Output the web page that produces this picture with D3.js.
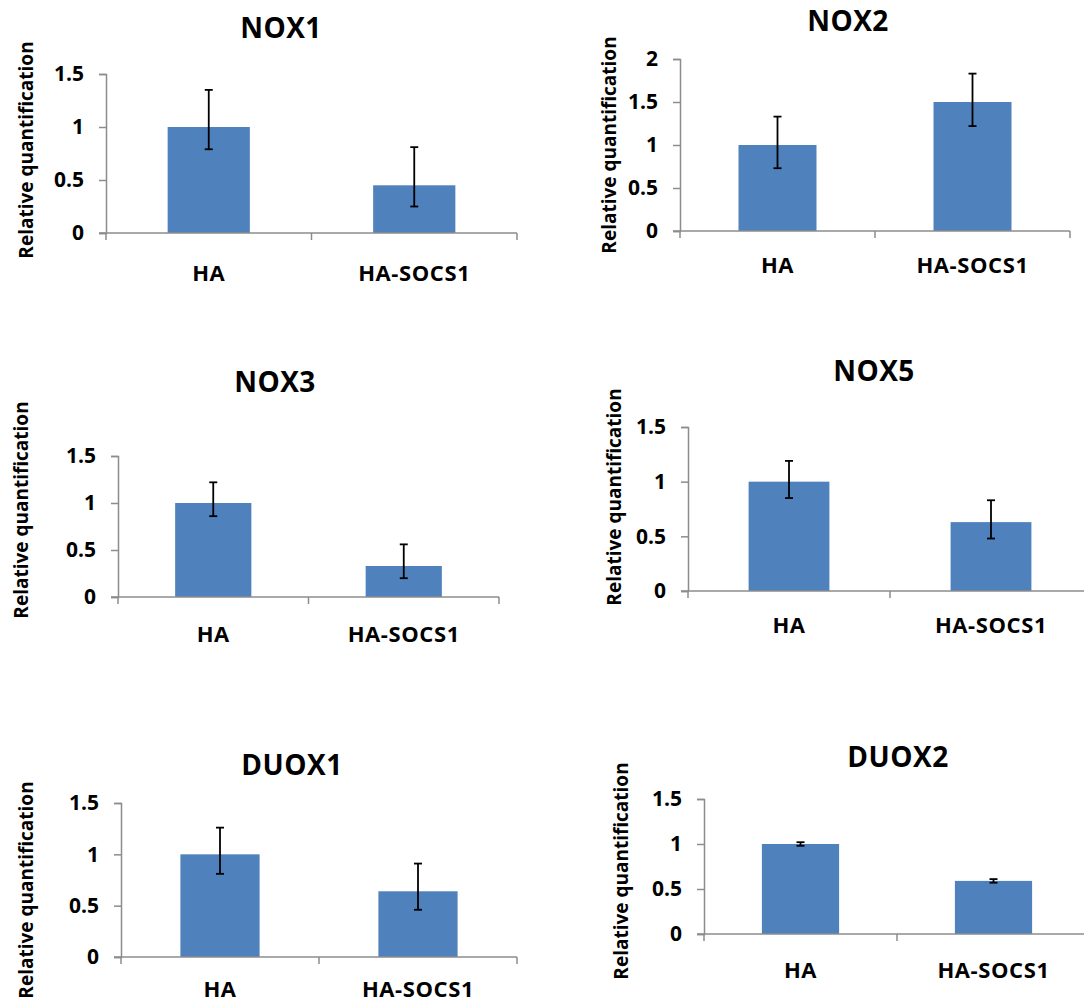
<!DOCTYPE html>
<html>
<head>
<meta charset="utf-8">
<script src="https://cdn.jsdelivr.net/npm/d3@7"></script>
<style>
  body { margin: 0; background: #fff; }
  svg { display: block; font-family: "Open Sans", "Noto Sans", sans-serif; font-weight: bold; }
</style>
</head>
<body>
<svg id="chart" width="1084" height="1003"></svg>
<script>
// data
var genes = ['NOX1', 'NOX2', 'NOX3', 'NOX5', 'DUOX1', 'DUOX2']
var groups = ['HA', 'HA-SOCS1']
var values = [[1.0, 0.45], [1.0, 1.50], [1.0, 0.33], [1.0, 0.63], [1.0, 0.64], [1.0, 0.59]]
var errLow = [[0.79, 0.25], [0.73, 1.22], [0.86, 0.20], [0.85, 0.48], [0.81, 0.46], [0.98, 0.57]]
var errHigh = [[1.35, 0.81], [1.33, 1.83], [1.22, 0.56], [1.19, 0.83], [1.26, 0.91], [1.02, 0.61]]
var yMax = [1.5, 2, 1.5, 1.5, 1.5, 1.5]
var yTicks = [[0, 0.5, 1, 1.5], [0, 0.5, 1, 1.5, 2], [0, 0.5, 1, 1.5], [0, 0.5, 1, 1.5], [0, 0.5, 1, 1.5], [0, 0.5, 1, 1.5]]
var yLabel = 'Relative quantification'

// panel placement on the page
var panels = [
  {x0: 106, x1: 517, zero: 233, top: 74, tx: 281, ty: 38, lx: 26, ly: 150, xl: 281},
  {x0: 680, x1: 1070, zero: 231, top: 59, tx: 848, ty: 31, lx: 609, ly: 145, xl: 273},
  {x0: 118, x1: 499, zero: 597, top: 456, tx: 275, ty: 392, lx: 21, ly: 510, xl: 642},
  {x0: 688, x1: 1092, zero: 591, top: 427, tx: 874, ty: 381, lx: 614, ly: 497, xl: 633},
  {x0: 121, x1: 517, zero: 957, top: 803, tx: 292, ty: 775, lx: 26, ly: 890, xl: 997},
  {x0: 704, x1: 1090, zero: 934, top: 799, tx: 898, ty: 767, lx: 621, ly: 871, xl: 978}
]

var barColor = '#4f81bd'
var axisColor = '#8c8c8c'

var svg = d3.select('#chart')

genes.forEach(function (gene, i) {
  var p = panels[i]
  var g = svg.append('g')

  var x = d3.scaleBand().domain(groups).range([p.x0, p.x1]).
    paddingInner(0.6).paddingOuter(0.3)
  var y = d3.scaleLinear().domain([0, yMax[i]]).range([p.zero, p.top])

  // y axis
  var yAxis = g.append('g').
    attr('transform', 'translate(' + p.x0 + ',0)').
    call(d3.axisLeft(y).tickValues(yTicks[i]).tickSize(7).tickPadding(15).
      tickFormat(function (d) { return d3.format('')(d) }))
  yAxis.select('.domain').attr('stroke', axisColor).attr('stroke-width', 1.5)
  yAxis.selectAll('.tick line').attr('stroke', axisColor).attr('stroke-width', 1.5)
  yAxis.selectAll('.tick text').
    attr('fill', '#000').
    style('font-size', '21px').
    style('font-family', '"Open Sans", sans-serif').
    style('font-weight', 'bold')

  // bars
  var rows = groups.map(function (grp, j) {
    return {grp: grp, v: values[i][j], lo: errLow[i][j], hi: errHigh[i][j]}
  })

  g.selectAll('rect.bar').data(rows).enter().append('rect').
    attr('class', 'bar').
    attr('x', function (d) { return x(d.grp) }).
    attr('width', x.bandwidth()).
    attr('y', function (d) { return y(d.v) }).
    attr('height', function (d) { return y(0) - y(d.v) }).
    attr('fill', barColor)

  // x axis line + boundary ticks
  g.append('line').
    attr('x1', p.x0 - 7).attr('x2', p.x1).
    attr('y1', y(0)).attr('y2', y(0)).
    attr('stroke', axisColor).attr('stroke-width', 1.5)

  var bounds = d3.range(groups.length + 1).map(function (k) {
    return p.x0 + k * x.step()
  })
  g.selectAll('line.xtick').data(bounds).
    enter().append('line').
    attr('class', 'xtick').
    attr('x1', function (d) { return d }).attr('x2', function (d) { return d }).
    attr('y1', y(0)).attr('y2', y(0) + 7).
    attr('stroke', axisColor).attr('stroke-width', 1.5)

  // error bars
  var err = g.selectAll('g.err').data(rows).enter().append('g').
    attr('class', 'err').
    attr('stroke', '#000').attr('stroke-width', 1.8)
  err.append('line').
    attr('x1', function (d) { return x(d.grp) + x.bandwidth() / 2 }).
    attr('x2', function (d) { return x(d.grp) + x.bandwidth() / 2 }).
    attr('y1', function (d) { return y(d.lo) }).
    attr('y2', function (d) { return y(d.hi) })
  ;['lo', 'hi'].forEach(function (k) {
    err.append('line').
      attr('x1', function (d) { return x(d.grp) + x.bandwidth() / 2 - 4 }).
      attr('x2', function (d) { return x(d.grp) + x.bandwidth() / 2 + 4 }).
      attr('y1', function (d) { return y(d[k]) }).
      attr('y2', function (d) { return y(d[k]) })
  })

  // category labels
  g.selectAll('text.cat').data(groups).enter().append('text').
    attr('class', 'cat').
    attr('x', function (d) { return x(d) + x.bandwidth() / 2 }).
    attr('y', p.xl).
    attr('text-anchor', 'middle').
    attr('font-size', 22).
    attr('letter-spacing', 0.6).
    text(function (d) { return d })

  // title
  g.append('text').
    attr('x', p.tx).attr('y', p.ty).
    attr('text-anchor', 'middle').
    attr('font-size', 28).
    attr('letter-spacing', 0.5).
    text(gene)

  // y label
  g.append('text').
    attr('transform', 'translate(' + p.lx + ',' + p.ly + ') rotate(-90)').
    attr('text-anchor', 'middle').
    attr('dy', '0.35em').
    attr('font-size', 19).
    text(yLabel)
})
</script>
</body>
</html>
